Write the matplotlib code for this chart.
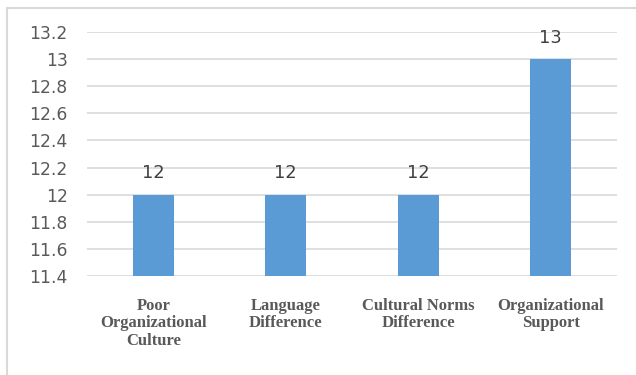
import matplotlib.pyplot as plt
from matplotlib.patches import Rectangle

categories = ["Poor\nOrganizational\nCulture", "Language\nDifference",
              "Cultural Norms\nDifference", "Organizational\nSupport"]
values = [12, 12, 12, 13]
yticks = [11.4, 11.6, 11.8, 12, 12.2, 12.4, 12.6, 12.8, 13, 13.2]
ytick_labels = ["11.4", "11.6", "11.8", "12", "12.2", "12.4", "12.6", "12.8", "13", "13.2"]

fig = plt.figure(figsize=(6.36, 3.75), dpi=100)
W, H = 636, 375
ax = fig.add_axes([87 / W, 1 - 276 / H, (617 - 87) / W, (276 - 32) / H])

# chart border (cropped on right and bottom)
fig.patches.append(Rectangle((7 / W, -0.1), 1.2, 1 - 8.5 / H + 0.1,
                             transform=fig.transFigure, fill=False,
                             edgecolor="#D9D9D9", linewidth=1.5))

x = range(len(categories))
ax.bar(x, values, width=0.31, color="#5B9BD5", zorder=3)
ax.set_xlim(-0.5, 3.5)
ax.set_ylim(11.4, 13.2)
ax.set_yticks(yticks)
ax.set_yticklabels(ytick_labels)
ax.grid(axis="y", color="#D9D9D9", linewidth=1.2, zorder=0)
for s in ax.spines.values():
    s.set_visible(False)
ax.tick_params(axis="y", length=0, pad=14, labelsize=12.3, labelcolor="#595959")
ax.tick_params(axis="x", length=0, pad=16)
ax.set_xticks(list(x))
ax.set_xticklabels(categories, fontfamily="Liberation Serif", fontweight="bold",
                   fontsize=12, color="#595959", linespacing=1.1, va="top")

for xi, v in zip(x, values):
    ax.annotate(str(v), (xi, v), xytext=(0, 9), textcoords="offset points",
                ha="center", va="bottom", fontsize=12.8, color="#404040")

fig.savefig("out.png", dpi=100)
